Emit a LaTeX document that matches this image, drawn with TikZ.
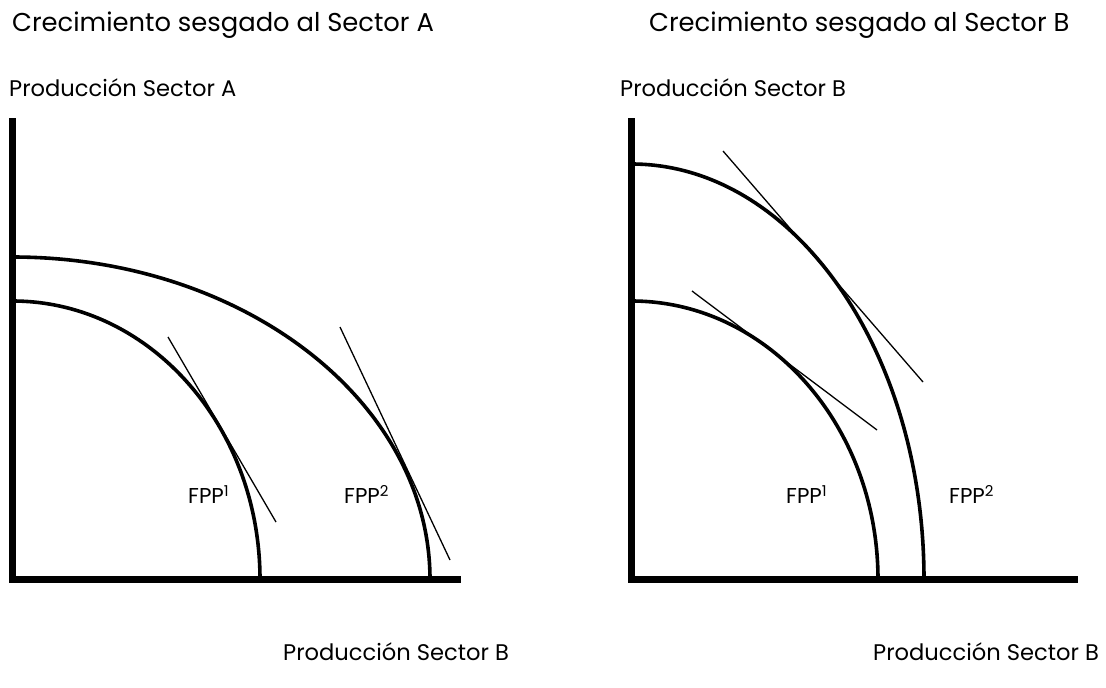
\documentclass[tikz,border=0pt]{standalone}
\usepackage{fontspec}
\setmainfont{Poppins}
\newcommand\fppsup[1]{\raisebox{0.28em}{\fontsize{15}{15}\selectfont #1}}
\begin{document}
\begin{tikzpicture}[x=1pt,y=-1pt,
  axis/.style={line width=7pt},
  fpp/.style={line width=3.6pt},
  tang/.style={line width=1.3pt},
  title/.style={anchor=base west,inner sep=0pt,font=\fontsize{25.8}{30}\selectfont},
  lbl/.style={anchor=base west,inner sep=0pt,font=\fontsize{22.6}{26}\selectfont},
  fpplbl/.style={anchor=base west,inner sep=0pt,font=\fontsize{21.5}{24}\selectfont}]
\path[use as bounding box] (0,0) rectangle (1106,688);
% ---- left panel ----
\node[title] (tA) at (12,31) {Crecimiento sesgado al Sector A};
\node[lbl] (yA) at (9,96) {Producción Sector A};
\node[lbl] (xA) at (283,660) {Producción Sector B};
\draw[axis] (12.5,118) -- (12.5,583);
\draw[axis] (9,579.5) -- (461,579.5);
\draw[fpp] (12.5,301) arc[start angle=-90,end angle=0,x radius=247.5,y radius=278.5];
\draw[fpp] (12.5,257) arc[start angle=-90,end angle=0,x radius=417.5,y radius=322.5];
\draw[tang] (168,337) -- (276,522);
\draw[tang] (340,327) -- (450,560);
\node[fpplbl] (f1A) at (188,503) {FPP\fppsup{1}};
\node[fpplbl] (f2A) at (344,503) {FPP\fppsup{2}};
% ---- right panel ----
\node[title] (tB) at (649,31) {Crecimiento sesgado al Sector B};
\node[lbl] (yB) at (620,96) {Producción Sector B};
\node[lbl] (xB) at (873,660) {Producción Sector B};
\draw[axis] (631.5,118) -- (631.5,583);
\draw[axis] (628,579.5) -- (1078,579.5);
\draw[fpp] (631.5,301) arc[start angle=-90,end angle=0,x radius=246.5,y radius=278.5];
\draw[fpp] (631.5,164) arc[start angle=-90,end angle=0,x radius=292.5,y radius=415.5];
\draw[tang] (692,291) -- (877,430);
\draw[tang] (723,151) -- (923,382);
\node[fpplbl] (f1B) at (786,503) {FPP\fppsup{1}};
\node[fpplbl] (f2B) at (949,503) {FPP\fppsup{2}};
\end{tikzpicture}
\end{document}
